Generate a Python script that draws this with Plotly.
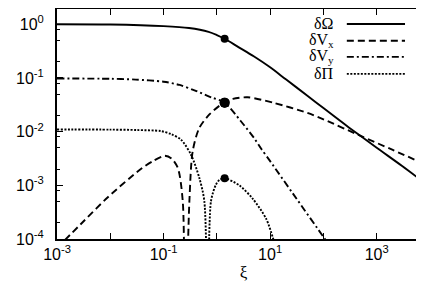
import plotly.graph_objects as go

# ---- data ----
xi_omega = [0.001, 0.01, 0.1, 0.3, 0.7, 1.0, 1.4, 2.5, 5, 10, 20, 50, 100, 300, 1000, 3000, 10000]
d_omega = [1.0, 0.989, 0.923, 0.851, 0.724, 0.631, 0.537, 0.380, 0.251, 0.158, 0.0933,
           0.0468, 0.0275, 0.0120, 0.00501, 0.00229, 0.000933]

xi_vx = [0.001, 0.00316, 0.009, 0.038, 0.063, 0.105, 0.141, 0.185, 0.229, 0.253, 0.305,
         0.352, 0.468, 0.724, 1.11, 1.4, 2.0, 3.78, 11.9, 50, 100, 500, 2000, 10000]
d_vx = [6.8e-5, 2.14e-4, 6.0e-4, 2.04e-3, 2.82e-3, 3.55e-3, 3.16e-3, 2.11e-3, 5.06e-4, 1e-6,
        5.06e-4, 4.3e-3, 0.0117, 0.0209, 0.0302, 0.0347, 0.0407, 0.0437, 0.0342, 0.0224,
        0.0170, 0.00832, 0.00457, 0.00224]

xi_vy = [0.001, 0.01, 0.03, 0.1, 0.2, 0.38, 0.78, 1.4, 2.8, 5.0, 6.8, 10, 27, 105, 160]
d_vy = [0.0977, 0.0966, 0.0933, 0.0851, 0.0741, 0.0589, 0.0437, 0.0347, 0.0158, 0.00759,
        0.00479, 0.00282, 0.000692, 0.000102, 5.6e-5]

xi_pi = [0.001, 0.01, 0.0316, 0.0897, 0.141, 0.213, 0.327, 0.468, 0.582, 0.676, 0.776,
         0.962, 1.12, 1.4, 2.67, 4.74, 8.45, 11.2, 14.1]
d_pi = [0.01096, 0.01091, 0.01072, 0.01023, 0.00891, 0.00708, 0.00372, 0.00138, 5.06e-4,
        1e-6, 5.06e-4, 1.03e-3, 1.26e-3, 1.355e-3, 9.9e-4, 5.58e-4, 2.37e-4, 1.07e-4, 5e-5]

xi_dot = [1.4, 1.4, 1.4, 1.4]
d_dot = [0.537, 0.0347, 0.0347, 0.00136]
dot_size = [8, 10, 10, 8]

names = ["δΩ", "δV<sub>x</sub>", "δV<sub>y</sub>", "δΠ"]
dashes = ["solid", "7px,4px", "7px,3px,2px,3px", "2px,1.5px"]

x_ticks = [1e-3, 1e-2, 1e-1, 1e0, 1e1, 1e2, 1e3, 1e4]
x_text = ["10<sup>-3</sup>", "", "10<sup>-1</sup>", "", "10<sup>1</sup>", "", "10<sup>3</sup>", ""]
y_ticks = [1e-4, 1e-3, 1e-2, 1e-1, 1e0]
y_text = ["10<sup>-4</sup>", "10<sup>-3</sup>", "10<sup>-2</sup>", "10<sup>-1</sup>", "10<sup>0</sup>"]
y_minor = [m * 10.0 ** e for e in range(-4, 1) for m in (2, 5, 8)]

fig = go.Figure()
series = [(xi_omega, d_omega), (xi_vx, d_vx), (xi_vy, d_vy), (xi_pi, d_pi)]
for (xs, ys), nm, ds in zip(series, names, dashes):
    fig.add_trace(go.Scatter(x=xs, y=ys, mode="lines", name=nm,
                             line=dict(color="black", width=1.9, dash=ds, shape="spline", smoothing=0.8),
                             showlegend=False))
fig.add_trace(go.Scatter(x=xi_dot, y=d_dot, mode="markers", showlegend=False,
                         marker=dict(color="black", size=dot_size, opacity=1, line=dict(width=0))))

# gnuplot-style key: text right-aligned, then line sample
key_rows = [0.935, 0.862, 0.792, 0.718]
for nm, ds, yr in zip(names, dashes, key_rows):
    fig.add_annotation(x=0.748, y=yr, xref="paper", yref="paper", text=nm, showarrow=False,
                       xanchor="right", yanchor="middle",
                       font=dict(family="Liberation Serif", size=16, color="black"))
    fig.add_shape(type="line", xref="paper", yref="paper", x0=0.777, x1=0.933, y0=yr, y1=yr,
                  line=dict(color="black", width=1.9, dash=ds))

fig.update_xaxes(type="log", range=[-3, 4], tickmode="array", tickvals=x_ticks, ticktext=x_text,
                 ticks="inside", ticklen=6, tickwidth=1, tickcolor="black",
                 showline=True, linewidth=2, linecolor="black", mirror="ticks",
                 showgrid=False, zeroline=False, ticklabelstandoff=0, automargin=False,
                 tickfont=dict(family="Liberation Sans", size=16, color="black"),
                 title=dict(text="ξ", standoff=4,
                            font=dict(family="Liberation Serif", size=17, color="black")))
fig.update_yaxes(type="log", range=[-4, 0.285], tickmode="array", tickvals=y_ticks, ticktext=y_text,
                 ticks="inside", ticklen=6, tickwidth=1, tickcolor="black",
                 showline=True, linewidth=2, linecolor="black", mirror="ticks",
                 showgrid=False, zeroline=False, ticklabelstandoff=8, automargin=False,
                 tickfont=dict(family="Liberation Sans", size=16, color="black"),
                 minor=dict(tickmode="array", tickvals=y_minor, ticks="inside", ticklen=3,
                            tickcolor="black", showgrid=False))

fig.update_layout(width=424, height=282, margin=dict(l=49, r=2, t=1, b=51),
                  paper_bgcolor="white", plot_bgcolor="white")
fig.write_html("out.html")
